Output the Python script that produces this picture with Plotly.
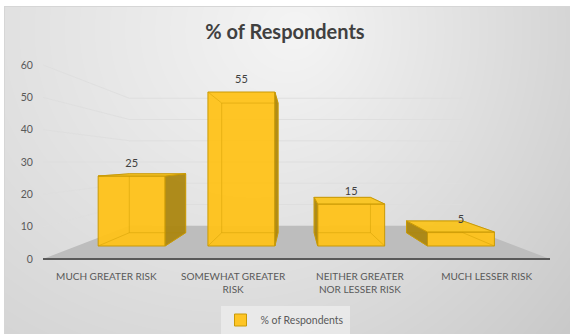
import base64
import struct
import zlib

import numpy as np
import plotly.graph_objects as go

# ---------------- data ----------------
categories = ["MUCH GREATER RISK", "SOMEWHAT GREATER<br>RISK",
              "NEITHER GREATER<br>NOR LESSER RISK", "MUCH LESSER RISK"]
values = [25, 55, 15, 5]
y_ticks = [0, 10, 20, 30, 40, 50, 60]
series_name = "% of Respondents"
title_text = "% of Respondents"

# ---------------- layout geometry ----------------
W, H = 570, 334
L, R, T, B = 43, 20, 62, 65
PW, PH = W - L - R, H - T - B
PX_PER_UNIT = 194 / 60.0          # front-plane vertical scale
ZERO_PX = 259                      # pixel row of value 0 on front plane
X_RANGE = [-0.5, len(categories) - 0.5]
Y_RANGE = [-((H - B) - ZERO_PX) / PX_PER_UNIT,
           60 + (65 - T) / PX_PER_UNIT]

# one-point perspective (vanishing point in data units)
VP_X, VP_Y = 1.488, 30.0
F_FRONT, F_BACK, F_WALL = 0.866, 0.729, 0.657
BAR_W = 0.61


def proj(x, y, f):
    return VP_X + (x - VP_X) * f, VP_Y + (y - VP_Y) * f


def path(points, close=False):
    s = "M " + " L ".join(f"{px:.5f},{py:.5f}" for px, py in points)
    return s + (" Z" if close else "")


# ---------------- background gradient image ----------------
def gradient_png(w, h):
    yy, xx = np.mgrid[0:h, 0:w].astype(float)
    r = np.sqrt(((xx - 300) / 330) ** 2 + ((yy - 30) / 330) ** 2)
    g = 252 - 30 * r - 14 * (xx / w)
    g = np.clip(g, 0, 255)
    img = np.stack([g, g, g], axis=-1).astype(np.uint8)
    img[(xx < 4) | (yy < 6)] = 255
    border = ((xx == 4) & (yy >= 6)) | ((yy == 6) & (xx >= 4))
    img[border] = 214
    raw = b"".join(b"\x00" + img[i].tobytes() for i in range(h))

    def chunk(tag, data):
        c = struct.pack(">I", len(data)) + tag + data
        return c + struct.pack(">I", zlib.crc32(tag + data) & 0xFFFFFFFF)

    png = b"\x89PNG\r\n\x1a\n"
    png += chunk(b"IHDR", struct.pack(">IIBBBBB", w, h, 8, 2, 0, 0, 0))
    png += chunk(b"IDAT", zlib.compress(raw, 9))
    png += chunk(b"IEND", b"")
    return "data:image/png;base64," + base64.b64encode(png).decode()


FONT = "Lato, 'Open Sans', sans-serif"
TXT = "#595959"

fig = go.Figure()

# ---------------- shapes: floor, walls gridlines ----------------
shapes = []
x_lo, x_hi = X_RANGE
floor = [proj(x_lo, 0, 1), proj(x_hi, 0, 1), proj(x_hi, 0, F_WALL), proj(x_lo, 0, F_WALL)]
shapes.append(dict(type="path", xref="x", yref="y", path=path(floor, True),
                   fillcolor="#bdbdbd", line=dict(width=0), layer="below"))
for v in y_ticks[1:]:
    pts = [proj(x_lo, v, 1), proj(x_lo, v, F_WALL), proj(x_hi, v, F_WALL)]
    shapes.append(dict(type="path", xref="x", yref="y", path=path(pts),
                       line=dict(color="rgba(222,222,222,0.9)", width=1), layer="below"))
edge = [proj(x_lo, 0, 1), proj(x_hi, 0, 1)]
shapes.append(dict(type="path", xref="x", yref="y", path=path(edge),
                   line=dict(color="#595959", width=2), layer="below"))

# ---------------- bars: front faces ----------------
fx = [proj(i, 0, F_FRONT)[0] for i in range(len(values))]
base = proj(0, 0, F_FRONT)[1]
fig.add_trace(go.Bar(
    x=fx, y=[v * F_FRONT for v in values], base=[base] * len(values),
    width=[BAR_W * F_FRONT] * len(values), name=series_name,
    marker=dict(color="rgba(255,194,22,0.93)", line=dict(color="#c99a06", width=1)),
    hoverinfo="skip", showlegend=True))

# hidden (back) edges showing through
ex, ey = [], []
for i, v in enumerate(values):
    x0, x1 = i - BAR_W / 2, i + BAR_W / 2
    back = [proj(x0, 0, F_BACK), proj(x1, 0, F_BACK), proj(x1, v, F_BACK), proj(x0, v, F_BACK), proj(x0, 0, F_BACK)]
    for p in back:
        ex.append(p[0]); ey.append(p[1])
    ex.append(None); ey.append(None)
    for xc in (x0, x1):
        for yc in (0, v):
            a, b = proj(xc, yc, F_FRONT), proj(xc, yc, F_BACK)
            ex += [a[0], b[0], None]; ey += [a[1], b[1], None]
fig.add_trace(go.Scatter(x=ex, y=ey, mode="lines",
                         line=dict(color="rgba(205,155,0,0.45)", width=1),
                         hoverinfo="skip", showlegend=False))

# visible side and top faces
for i, v in enumerate(values):
    x0, x1 = i - BAR_W / 2, i + BAR_W / 2
    faces = []
    if x1 < VP_X:
        faces.append(([proj(x1, 0, F_FRONT), proj(x1, v, F_FRONT), proj(x1, v, F_BACK), proj(x1, 0, F_BACK)],
                      "rgba(170,132,12,0.93)"))
    if x0 > VP_X:
        faces.append(([proj(x0, 0, F_FRONT), proj(x0, v, F_FRONT), proj(x0, v, F_BACK), proj(x0, 0, F_BACK)],
                      "rgba(170,132,12,0.93)"))
    if v < VP_Y:
        faces.append(([proj(x0, v, F_FRONT), proj(x1, v, F_FRONT), proj(x1, v, F_BACK), proj(x0, v, F_BACK)],
                      "rgba(250,196,30,0.95)"))
    for pts, col in faces:
        xs = [p[0] for p in pts] + [pts[0][0]]
        ys = [p[1] for p in pts] + [pts[0][1]]
        fig.add_trace(go.Scatter(x=xs, y=ys, mode="lines", fill="toself", fillcolor=col,
                                 line=dict(color="#c99a06", width=1),
                                 hoverinfo="skip", showlegend=False))

# data labels
lx = [proj(i, v, F_FRONT)[0] for i, v in enumerate(values)]
ly = [proj(i, v, F_FRONT)[1] for i, v in enumerate(values)]
fig.add_trace(go.Scatter(x=lx, y=ly, mode="markers+text", text=[str(v) for v in values],
                         textposition="top center", marker=dict(size=8, opacity=0),
                         textfont=dict(family=FONT, size=11, color="#404040"),
                         hoverinfo="skip", showlegend=False))

fig.update_layout(
    width=W, height=H, margin=dict(l=L, r=R, t=T, b=B, pad=0, autoexpand=False),
    paper_bgcolor="white", plot_bgcolor="rgba(0,0,0,0)",
    title=dict(text=f"<b>{title_text}</b>", x=0.5, xanchor="center", y=1 - 32 / H, yanchor="middle",
               font=dict(family=FONT, size=20, color="#404040")),
    font=dict(family=FONT, size=10, color=TXT),
    shapes=shapes,
    images=[dict(source=gradient_png(W, H), xref="paper", yref="paper",
                 x=-L / PW, y=1 + T / PH, sizex=W / PW, sizey=H / PH,
                 xanchor="left", yanchor="top", sizing="stretch", layer="below")],
    xaxis=dict(range=X_RANGE, tickvals=list(range(len(categories))), ticktext=categories,
               showgrid=False, zeroline=False, showline=False, ticks="",
               tickfont=dict(family=FONT, size=10, color=TXT),
               fixedrange=True, automargin=False),
    yaxis=dict(range=Y_RANGE, tickvals=y_ticks, showgrid=False, zeroline=False, showline=False,
               ticks="outside", ticklen=7, tickcolor="rgba(0,0,0,0)",
               tickfont=dict(family=FONT, size=10.5, color=TXT), fixedrange=True, automargin=False),
    legend=dict(orientation="h", x=0.5, xanchor="center", xref="container",
                y=1 - 320 / H, yanchor="middle", yref="container",
                bgcolor="rgba(238,238,238,0.75)", font=dict(family=FONT, size=10.5, color=TXT),
                itemwidth=30),
    showlegend=True,
)

fig.write_html("out.html")
